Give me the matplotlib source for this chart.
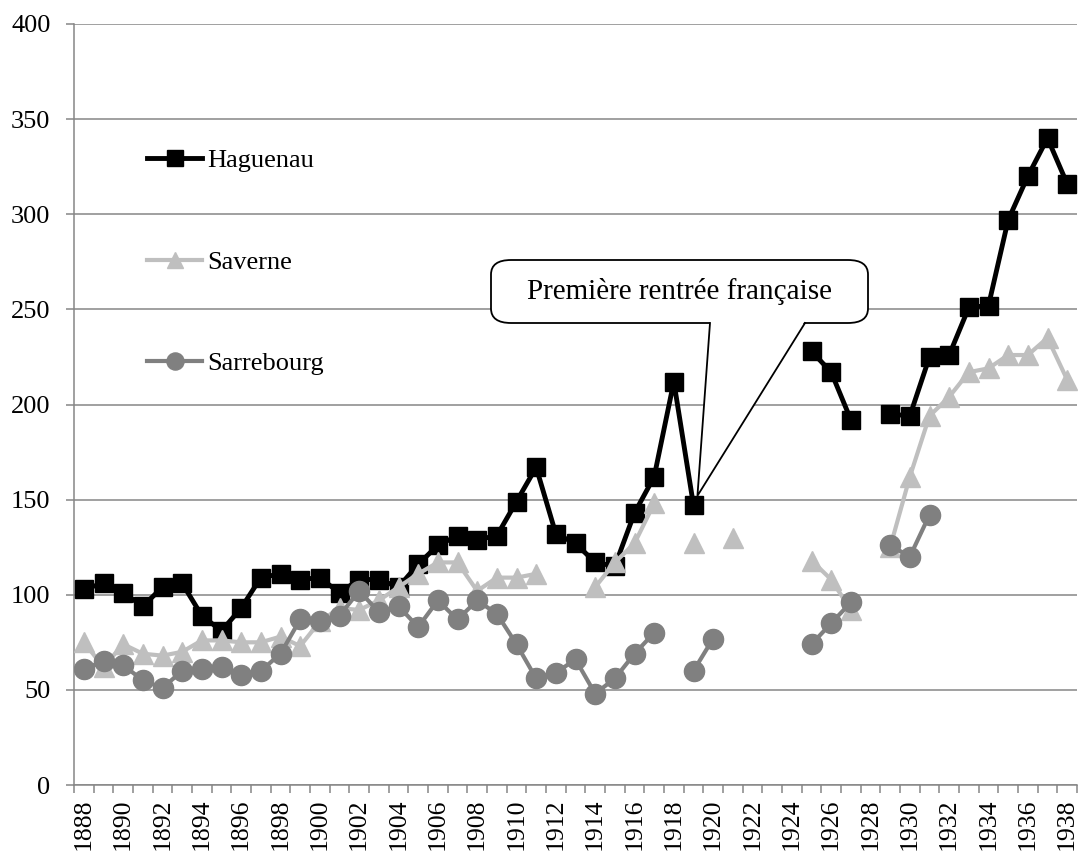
import numpy as np
import matplotlib

matplotlib.use("Agg")
import matplotlib.pyplot as plt
from matplotlib.patches import FancyBboxPatch, Polygon

nan = np.nan

years = np.arange(1888, 1939)

haguenau = [
    103, 106, 101, 94, 104, 106, 89, 81, 93, 109,
    111, 108, 109, 101, 108, 108, 104, 116, 126, 131,
    129, 131, 149, 167, 132, 127, 117, 115, 143, 162,
    212, 147, nan, nan, nan, nan, nan, 228, 217, 192,
    nan, 195, 194, 225, 226, 251, 252, 297, 320, 340,
    316,
]
saverne = [
    75, 62, 74, 69, 68, 70, 76, 76, 75, 75,
    78, 73, 86, 93, 92, 97, 104, 111, 117, 117,
    102, 109, 109, 111, nan, nan, 104, 117, 127, 148,
    nan, 127, nan, 130, nan, nan, nan, 118, 108, 92,
    nan, 125, 162, 194, 204, 217, 219, 226, 226, 235,
    213,
]
sarrebourg = [
    61, 65, 63, 55, 51, 60, 61, 62, 58, 60,
    69, 87, 86, 89, 102, 91, 94, 83, 97, 87,
    97, 90, 74, 56, 59, 66, 48, 56, 69, 80,
    nan, 60, 77, nan, nan, nan, nan, 74, 85, 96,
    nan, 126, 120, 142, nan, nan, nan, nan, nan, nan,
    nan,
]

series_names = ["Haguenau", "Saverne", "Sarrebourg"]
y_ticks = list(range(0, 401, 50))
callout_text = "Première rentrée française"
callout_year = 1919

plt.rcParams["font.family"] = ["Liberation Serif", "DejaVu Serif"]

fig = plt.figure(figsize=(10.79, 8.52), dpi=100)
ax = fig.add_axes([74 / 1079, (852 - 785) / 852, 1003 / 1079, 761 / 852])

grid_grey = "#868686"

ax.plot(years, haguenau, color="black", lw=3.5, marker="s", markersize=13.5,
        markerfacecolor="black", markeredgecolor="black", label=series_names[0], zorder=3)
ax.plot(years, saverne, color="#bfbfbf", lw=3.0, marker="^", markersize=14,
        markerfacecolor="#bfbfbf", markeredgecolor="#bfbfbf", label=series_names[1], zorder=4)
ax.plot(years, sarrebourg, color="#808080", lw=3.0, marker="o", markersize=14.5,
        markerfacecolor="#808080", markeredgecolor="#808080", label=series_names[2], zorder=5)

ax.set_xlim(years[0] - 0.5, years[-1] + 0.5)
ax.set_ylim(0, 400)
ax.set_yticks(y_ticks)
ax.set_xticks(years[::2])
ax.set_xticklabels([str(y) for y in years[::2]], rotation=90)
ax.set_xticks(np.arange(years[0] - 0.5, years[-1] + 1.0, 1.0), minor=True)

ax.tick_params(axis="y", length=6, width=1.1, color=grid_grey, pad=11, labelsize=19)
ax.tick_params(axis="x", which="major", length=0, pad=10, labelsize=18.5)
ax.tick_params(axis="x", which="minor", length=6, width=1.1, color=grid_grey)

ax.yaxis.grid(True, color=grid_grey, lw=1.1)
ax.set_axisbelow(True)
for side in ["top", "right"]:
    ax.spines[side].set_visible(False)
for side in ["left", "bottom"]:
    ax.spines[side].set_color(grid_grey)
    ax.spines[side].set_linewidth(1.1)

ax.legend(loc="upper left", bbox_to_anchor=((147 - 74) / 1003, (785 - 149) / 761),
          frameon=False, fontsize=19, handlelength=2.1, handletextpad=0.2,
          labelspacing=2.95, borderpad=0, borderaxespad=0, markerscale=0.85)

# callout box with wedge pointing to the 1919 Haguenau value
box_left, box_right = (491 - 74) / 1003, (868 - 74) / 1003
box_bottom, box_top = (785 - 323) / 761, (785 - 260) / 761
box = FancyBboxPatch((box_left, box_bottom), box_right - box_left, box_top - box_bottom,
                     boxstyle="round,pad=0,rounding_size=0.02", mutation_aspect=0.95,
                     transform=ax.transAxes, facecolor="white", edgecolor="black",
                     lw=1.3, zorder=6)
ax.add_patch(box)

idx = list(years).index(callout_year)
tip = ax.transAxes.inverted().transform(ax.transData.transform((callout_year + 0.2, haguenau[idx] + 5)))
base_l, base_r = (710 - 74) / 1003, (805 - 74) / 1003
wedge = Polygon([(base_l, box_bottom + 0.003), (base_r, box_bottom + 0.003), tuple(tip)],
                closed=True, transform=ax.transAxes, facecolor="white", edgecolor="none", zorder=7)
ax.add_patch(wedge)
ax.plot([base_l, tip[0], base_r], [box_bottom, tip[1], box_bottom], color="black", lw=1.3,
        transform=ax.transAxes, zorder=8, solid_joinstyle="miter")
ax.text((box_left + box_right) / 2, (box_bottom + box_top) / 2, callout_text,
        transform=ax.transAxes, ha="center", va="center", fontsize=21, zorder=9)

fig.savefig("out.png", dpi=100)
